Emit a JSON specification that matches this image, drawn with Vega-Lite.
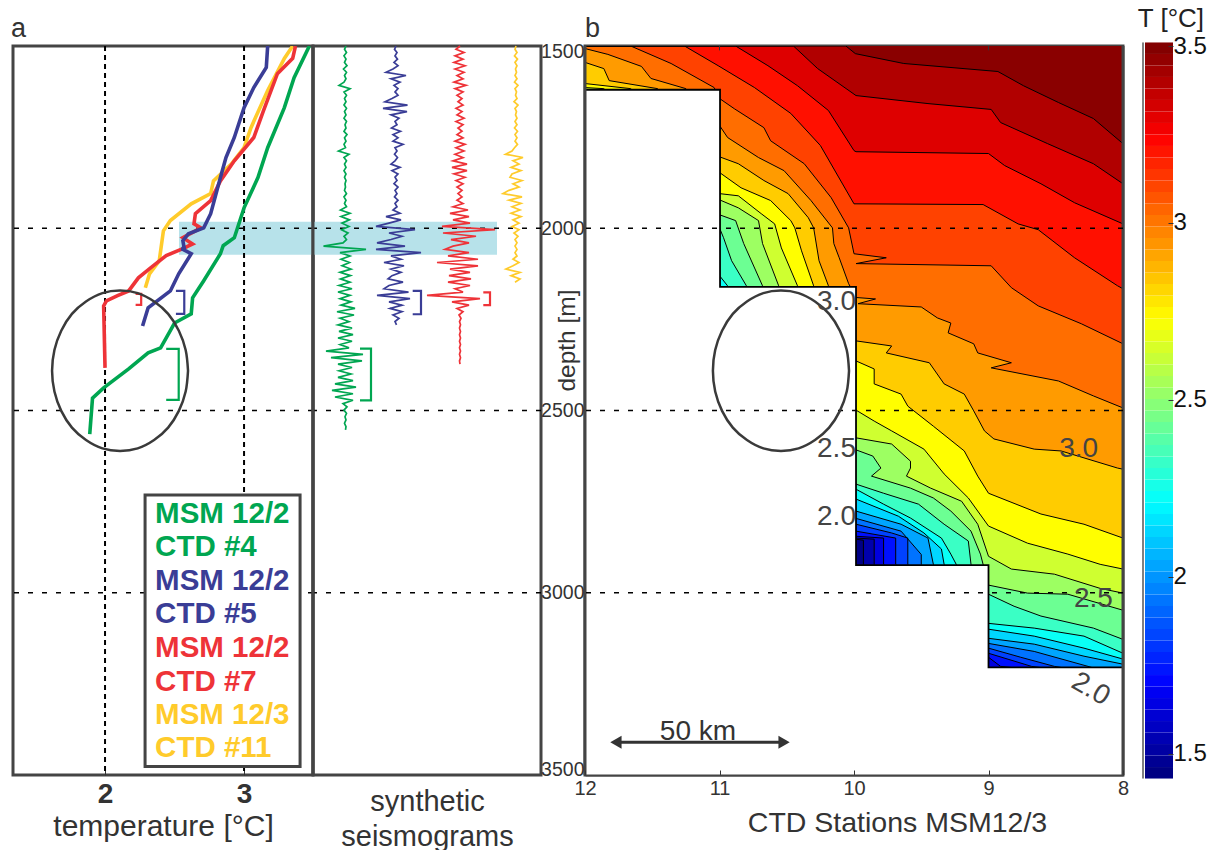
{"$schema":"https://vega.github.io/schema/vega-lite/v6.json","padding":{"left":9,"top":6,"right":0,"bottom":0},"bounds":"flush","spacing":0,"config":{"font":"Liberation Sans","view":{"stroke":"#444","strokeWidth":3},"axis":{"grid":false,"titleFontWeight":"normal","labelColor":"#333","titleColor":"#333","tickColor":"#333","domainColor":"#444"}},
"datasets":{
"curves":[
{"c":"#4","x":3.47,"d":1500},{"c":"#4","x":3.36,"d":1587},{"c":"#4","x":3.29,"d":1669},{"c":"#4","x":3.17,"d":1779},{"c":"#4","x":3.1,"d":1861},{"c":"#4","x":3.0,"d":1944},{"c":"#4","x":2.93,"d":2026},{"c":"#4","x":2.85,"d":2048},{"c":"#4","x":2.83,"d":2070},{"c":"#4","x":2.71,"d":2144},{"c":"#4","x":2.63,"d":2191},{"c":"#4","x":2.62,"d":2235},{"c":"#4","x":2.5,"d":2260},{"c":"#4","x":2.4,"d":2328},{"c":"#4","x":2.31,"d":2342},{"c":"#4","x":2.17,"d":2386},{"c":"#4","x":1.99,"d":2438},{"c":"#4","x":1.91,"d":2466},{"c":"#4","x":1.89,"d":2565},
{"c":"#11","x":3.35,"d":1500},{"c":"#11","x":3.29,"d":1534},{"c":"#11","x":3.17,"d":1622},{"c":"#11","x":3.05,"d":1724},{"c":"#11","x":3.0,"d":1779},{"c":"#11","x":2.91,"d":1823},{"c":"#11","x":2.78,"d":1870},{"c":"#11","x":2.76,"d":1905},{"c":"#11","x":2.62,"d":1933},{"c":"#11","x":2.47,"d":1979},{"c":"#11","x":2.42,"d":2007},{"c":"#11","x":2.39,"d":2089},{"c":"#11","x":2.32,"d":2125},{"c":"#11","x":2.29,"d":2163},
{"c":"#7","x":3.37,"d":1500},{"c":"#7","x":3.35,"d":1534},{"c":"#7","x":3.24,"d":1576},{"c":"#7","x":3.14,"d":1677},{"c":"#7","x":3.07,"d":1751},{"c":"#7","x":2.93,"d":1815},{"c":"#7","x":2.83,"d":1870},{"c":"#7","x":2.76,"d":1924},{"c":"#7","x":2.65,"d":1960},{"c":"#7","x":2.64,"d":1988},{"c":"#7","x":2.69,"d":1999},{"c":"#7","x":2.56,"d":2026},{"c":"#7","x":2.63,"d":2043},{"c":"#7","x":2.56,"d":2056},{"c":"#7","x":2.44,"d":2075},{"c":"#7","x":2.33,"d":2108},{"c":"#7","x":2.24,"d":2136},{"c":"#7","x":2.17,"d":2172},{"c":"#7","x":2.09,"d":2185},{"c":"#7","x":2.01,"d":2199},{"c":"#7","x":1.99,"d":2213},{"c":"#7","x":2.0,"d":2383},
{"c":"#5","x":3.17,"d":1500},{"c":"#5","x":3.16,"d":1559},{"c":"#5","x":3.07,"d":1614},{"c":"#5","x":3.0,"d":1669},{"c":"#5","x":2.93,"d":1751},{"c":"#5","x":2.87,"d":1806},{"c":"#5","x":2.83,"d":1861},{"c":"#5","x":2.76,"d":1960},{"c":"#5","x":2.71,"d":1999},{"c":"#5","x":2.6,"d":2015},{"c":"#5","x":2.56,"d":2034},{"c":"#5","x":2.57,"d":2056},{"c":"#5","x":2.55,"d":2056},{"c":"#5","x":2.62,"d":2070},{"c":"#5","x":2.53,"d":2125},{"c":"#5","x":2.47,"d":2172},{"c":"#5","x":2.31,"d":2218},{"c":"#5","x":2.27,"d":2268}],
"bracketsA":[
{"c":"#7","x":2.22,"d":2180},{"c":"#7","x":2.26,"d":2180},{"c":"#7","x":2.26,"d":2210},{"c":"#7","x":2.22,"d":2210},
{"c":"#5","x":2.51,"d":2172},{"c":"#5","x":2.57,"d":2172},{"c":"#5","x":2.57,"d":2235},{"c":"#5","x":2.51,"d":2235},
{"c":"#4","x":2.44,"d":2331},{"c":"#4","x":2.53,"d":2331},{"c":"#4","x":2.53,"d":2471},{"c":"#4","x":2.44,"d":2471}],
"bracketsS":[
{"c":"#5","x":0.997,"d":2172},{"c":"#5","x":1.08,"d":2172},{"c":"#5","x":1.08,"d":2236},{"c":"#5","x":0.997,"d":2236},
{"c":"#7","x":1.703,"d":2176},{"c":"#7","x":1.77,"d":2176},{"c":"#7","x":1.77,"d":2211},{"c":"#7","x":1.703,"d":2211},
{"c":"#4","x":0.47,"d":2330},{"c":"#4","x":0.58,"d":2330},{"c":"#4","x":0.58,"d":2472},{"c":"#4","x":0.47,"d":2472}],
"legendRows":[
{"c":"#4","x":2.36,"d":2784,"l":"MSM 12/2"},{"c":"#4","x":2.36,"d":2875,"l":"CTD #4"},{"c":"#5","x":2.36,"d":2968,"l":"MSM 12/2"},{"c":"#5","x":2.36,"d":3059,"l":"CTD #5"},{"c":"#7","x":2.36,"d":3152,"l":"MSM 12/2"},{"c":"#7","x":2.36,"d":3246,"l":"CTD #7"},{"c":"#11","x":2.36,"d":3336,"l":"MSM 12/3"},{"c":"#11","x":2.36,"d":3427,"l":"CTD #11"}],
"circleA":[{"x":2.597,"d":2391},{"x":2.58,"d":2448},{"x":2.531,"d":2501},{"x":2.454,"d":2547},{"x":2.353,"d":2581},{"x":2.235,"d":2604},{"x":2.108,"d":2611},{"x":1.981,"d":2604},{"x":1.863,"d":2581},{"x":1.762,"d":2547},{"x":1.685,"d":2501},{"x":1.636,"d":2448},{"x":1.619,"d":2391},{"x":1.636,"d":2334},{"x":1.685,"d":2281},{"x":1.762,"d":2235},{"x":1.863,"d":2201},{"x":1.981,"d":2178},{"x":2.108,"d":2171},{"x":2.235,"d":2178},{"x":2.353,"d":2201},{"x":2.454,"d":2235},{"x":2.531,"d":2281},{"x":2.58,"d":2334},{"x":2.597,"d":2391}],
"circleB":[{"x":10.037,"d":2391},{"x":10.054,"d":2448},{"x":10.105,"d":2501},{"x":10.185,"d":2547},{"x":10.29,"d":2581},{"x":10.412,"d":2604},{"x":10.543,"d":2611},{"x":10.674,"d":2604},{"x":10.796,"d":2581},{"x":10.901,"d":2547},{"x":10.981,"d":2501},{"x":11.032,"d":2448},{"x":11.049,"d":2391},{"x":11.032,"d":2334},{"x":10.981,"d":2281},{"x":10.901,"d":2235},{"x":10.796,"d":2201},{"x":10.674,"d":2178},{"x":10.543,"d":2171},{"x":10.412,"d":2178},{"x":10.29,"d":2201},{"x":10.185,"d":2235},{"x":10.105,"d":2281},{"x":10.054,"d":2334},{"x":10.037,"d":2391}],
"horizontals":[{"d":2000},{"d":2500},{"d":3000}],
"mask":[{"x":12,"d":1620},{"x":10.996,"d":1620},{"x":10.996,"d":2161},{"x":9.985,"d":2161},{"x":9.985,"d":2924},{"x":9.0,"d":2924},{"x":9.0,"d":3205},{"x":8.0,"d":3205}],
"contours":[
{"b":3.48,"x":12,"d":1500},{"b":3.48,"x":8,"d":1500},
{"b":3.4,"x":12,"d":1500},{"b":3.4,"x":10.06,"d":1500},{"b":3.4,"x":9.99,"d":1521},{"b":3.4,"x":9.63,"d":1548},{"b":3.4,"x":8.93,"d":1570},{"b":3.4,"x":8.74,"d":1609},{"b":3.4,"x":8.48,"d":1655},{"b":3.4,"x":8.22,"d":1699},{"b":3.4,"x":8.0,"d":1768},
{"b":3.31,"x":12,"d":1500},{"b":3.31,"x":10.45,"d":1500},{"b":3.31,"x":10.27,"d":1562},{"b":3.31,"x":9.985,"d":1636},{"b":3.31,"x":9.45,"d":1658},{"b":3.31,"x":8.98,"d":1674},{"b":3.31,"x":8.91,"d":1710},{"b":3.31,"x":8.56,"d":1768},{"b":3.31,"x":8.22,"d":1823},{"b":3.31,"x":8.0,"d":1878},
{"b":3.21,"x":12,"d":1500},{"b":3.21,"x":10.88,"d":1500},{"b":3.21,"x":10.64,"d":1554},{"b":3.21,"x":10.42,"d":1609},{"b":3.21,"x":10.19,"d":1677},{"b":3.21,"x":10.0,"d":1787},{"b":3.21,"x":9.985,"d":1790},{"b":3.21,"x":9.0,"d":1795},{"b":3.21,"x":8.88,"d":1828},{"b":3.21,"x":8.61,"d":1878},{"b":3.21,"x":8.36,"d":1930},{"b":3.21,"x":8.0,"d":1988},
{"b":3.11,"x":12,"d":1500},{"b":3.11,"x":11.26,"d":1500},{"b":3.11,"x":11.01,"d":1554},{"b":3.11,"x":10.74,"d":1614},{"b":3.11,"x":10.47,"d":1685},{"b":3.11,"x":10.25,"d":1773},{"b":3.11,"x":10.0,"d":1933},{"b":3.11,"x":9.985,"d":1933},{"b":3.11,"x":9.04,"d":1935},{"b":3.11,"x":8.78,"d":1988},{"b":3.11,"x":8.63,"d":2004},{"b":3.11,"x":8.36,"d":2081},{"b":3.11,"x":8.04,"d":2158},{"b":3.11,"x":8.0,"d":2166},
{"b":3.02,"x":12,"d":1500},{"b":3.02,"x":11.66,"d":1500},{"b":3.02,"x":11.36,"d":1548},{"b":3.02,"x":11.04,"d":1614},{"b":3.02,"x":11.0,"d":1644},{"b":3.02,"x":10.89,"d":1672},{"b":3.02,"x":10.67,"d":1724},{"b":3.02,"x":10.62,"d":1760},{"b":3.02,"x":10.37,"d":1823},{"b":3.02,"x":10.17,"d":1916},{"b":3.02,"x":10.04,"d":1999},{"b":3.02,"x":10.0,"d":2070},{"b":3.02,"x":9.76,"d":2081},{"b":3.02,"x":9.985,"d":2097},{"b":3.02,"x":8.98,"d":2103},{"b":3.02,"x":8.83,"d":2163},{"b":3.02,"x":8.63,"d":2213},{"b":3.02,"x":8.31,"d":2262},{"b":3.02,"x":8.0,"d":2317},
{"b":2.93,"x":12,"d":1507},{"b":2.93,"x":11.83,"d":1523},{"b":2.93,"x":11.58,"d":1556},{"b":2.93,"x":11.51,"d":1589},{"b":2.93,"x":11.25,"d":1617},{"b":2.93,"x":11.0,"d":1718},{"b":2.93,"x":10.94,"d":1751},{"b":2.93,"x":10.71,"d":1806},{"b":2.93,"x":10.52,"d":1842},{"b":2.93,"x":10.32,"d":1924},{"b":2.93,"x":10.16,"d":1999},{"b":2.93,"x":10.15,"d":2042},{"b":2.93,"x":10.11,"d":2081},{"b":2.93,"x":10.04,"d":2152},{"b":2.93,"x":9.985,"d":2190},{"b":2.93,"x":9.84,"d":2194},{"b":2.93,"x":9.97,"d":2207},{"b":2.93,"x":9.5,"d":2216},{"b":2.93,"x":9.38,"d":2246},{"b":2.93,"x":9.28,"d":2260},{"b":2.93,"x":9.3,"d":2287},{"b":2.93,"x":9.11,"d":2317},{"b":2.93,"x":9.08,"d":2342},{"b":2.93,"x":8.83,"d":2369},{"b":2.93,"x":8.98,"d":2383},{"b":2.93,"x":8.48,"d":2419},{"b":2.93,"x":8.22,"d":2460},{"b":2.93,"x":8.0,"d":2493},
{"b":2.83,"x":12,"d":1545},{"b":2.83,"x":11.86,"d":1562},{"b":2.83,"x":11.82,"d":1595},{"b":2.83,"x":11.46,"d":1617},{"b":2.83,"x":11.0,"d":1804},{"b":2.83,"x":10.86,"d":1823},{"b":2.83,"x":10.67,"d":1869},{"b":2.83,"x":10.49,"d":1905},{"b":2.83,"x":10.34,"d":1971},{"b":2.83,"x":10.3,"d":1999},{"b":2.83,"x":10.26,"d":2089},{"b":2.83,"x":10.19,"d":2158},{"b":2.83,"x":9.985,"d":2309},{"b":2.83,"x":9.72,"d":2323},{"b":2.83,"x":9.76,"d":2342},{"b":2.83,"x":9.44,"d":2369},{"b":2.83,"x":9.33,"d":2427},{"b":2.83,"x":9.18,"d":2455},{"b":2.83,"x":9.11,"d":2501},{"b":2.83,"x":9.03,"d":2556},{"b":2.83,"x":8.96,"d":2578},{"b":2.83,"x":8.66,"d":2606},{"b":2.83,"x":8.46,"d":2611},{"b":2.83,"x":8.04,"d":2658},{"b":2.83,"x":8.0,"d":2661},
{"b":2.73,"x":12,"d":1603},{"b":2.73,"x":11.66,"d":1617},{"b":2.73,"x":11.0,"d":1847},{"b":2.73,"x":10.84,"d":1889},{"b":2.73,"x":10.62,"d":1924},{"b":2.73,"x":10.47,"d":1979},{"b":2.73,"x":10.44,"d":1999},{"b":2.73,"x":10.39,"d":2062},{"b":2.73,"x":10.3,"d":2158},{"b":2.73,"x":9.985,"d":2364},{"b":2.73,"x":9.85,"d":2386},{"b":2.73,"x":9.85,"d":2427},{"b":2.73,"x":9.65,"d":2455},{"b":2.73,"x":9.6,"d":2488},{"b":2.73,"x":9.41,"d":2543},{"b":2.73,"x":9.18,"d":2611},{"b":2.73,"x":9.08,"d":2680},{"b":2.73,"x":9.0,"d":2727},{"b":2.73,"x":8.61,"d":2784},{"b":2.73,"x":8.29,"d":2812},{"b":2.73,"x":8.0,"d":2850},
{"b":2.63,"x":12,"d":1614},{"b":2.63,"x":11.86,"d":1617},{"b":2.63,"x":11.0,"d":1905},{"b":2.63,"x":10.86,"d":1911},{"b":2.63,"x":10.69,"d":1960},{"b":2.63,"x":10.59,"d":1988},{"b":2.63,"x":10.54,"d":2054},{"b":2.63,"x":10.42,"d":2158},{"b":2.63,"x":9.985,"d":2499},{"b":2.63,"x":9.85,"d":2529},{"b":2.63,"x":9.72,"d":2556},{"b":2.63,"x":9.48,"d":2606},{"b":2.63,"x":9.33,"d":2674},{"b":2.63,"x":9.15,"d":2740},{"b":2.63,"x":9.0,"d":2817},{"b":2.63,"x":8.71,"d":2864},{"b":2.63,"x":8.41,"d":2894},{"b":2.63,"x":8.17,"d":2922},{"b":2.63,"x":8.0,"d":2935},
{"b":2.53,"x":12,"d":1640},{"b":2.53,"x":11.0,"d":1922},{"b":2.53,"x":10.86,"d":1944},{"b":2.53,"x":10.71,"d":1979},{"b":2.53,"x":10.68,"d":2042},{"b":2.53,"x":10.56,"d":2158},{"b":2.53,"x":9.985,"d":2575},{"b":2.53,"x":9.72,"d":2592},{"b":2.53,"x":9.58,"d":2639},{"b":2.53,"x":9.58,"d":2658},{"b":2.53,"x":9.61,"d":2680},{"b":2.53,"x":9.43,"d":2713},{"b":2.53,"x":9.2,"d":2749},{"b":2.53,"x":9.08,"d":2812},{"b":2.53,"x":9.0,"d":2900},{"b":2.53,"x":8.83,"d":2935},{"b":2.53,"x":8.51,"d":2949},{"b":2.53,"x":8.17,"d":2988},{"b":2.53,"x":8.0,"d":3001},
{"b":2.43,"x":12,"d":1650},{"b":2.43,"x":11.0,"d":1963},{"b":2.43,"x":10.88,"d":1979},{"b":2.43,"x":10.82,"d":2042},{"b":2.43,"x":10.68,"d":2158},{"b":2.43,"x":9.985,"d":2608},{"b":2.43,"x":9.86,"d":2625},{"b":2.43,"x":9.8,"d":2658},{"b":2.43,"x":9.87,"d":2680},{"b":2.43,"x":9.58,"d":2713},{"b":2.43,"x":9.41,"d":2740},{"b":2.43,"x":9.28,"d":2776},{"b":2.43,"x":9.13,"d":2831},{"b":2.43,"x":9.06,"d":2894},{"b":2.43,"x":9.0,"d":2979},{"b":2.43,"x":8.71,"d":3001},{"b":2.43,"x":8.41,"d":3004},{"b":2.43,"x":8.0,"d":3048},
{"b":2.33,"x":12,"d":1660},{"b":2.33,"x":11.0,"d":1999},{"b":2.33,"x":10.97,"d":2026},{"b":2.33,"x":10.91,"d":2089},{"b":2.33,"x":10.8,"d":2158},{"b":2.33,"x":9.985,"d":2702},{"b":2.33,"x":9.78,"d":2727},{"b":2.33,"x":9.52,"d":2757},{"b":2.33,"x":9.33,"d":2812},{"b":2.33,"x":9.15,"d":2858},{"b":2.33,"x":9.13,"d":2922},{"b":2.33,"x":9.0,"d":3004},{"b":2.33,"x":8.81,"d":3037},{"b":2.33,"x":8.61,"d":3064},{"b":2.33,"x":8.22,"d":3097},{"b":2.33,"x":8.0,"d":3128},
{"b":2.23,"x":12,"d":1670},{"b":2.23,"x":11.0,"d":2130},{"b":2.23,"x":10.94,"d":2158},{"b":2.23,"x":9.985,"d":2716},{"b":2.23,"x":9.78,"d":2757},{"b":2.23,"x":9.58,"d":2795},{"b":2.23,"x":9.35,"d":2850},{"b":2.23,"x":9.28,"d":2894},{"b":2.23,"x":9.24,"d":2922},{"b":2.23,"x":9.0,"d":3084},{"b":2.23,"x":8.66,"d":3097},{"b":2.23,"x":8.29,"d":3119},{"b":2.23,"x":8.0,"d":3166},
{"b":2.13,"x":12,"d":1680},{"b":2.13,"x":11.0,"d":2200},{"b":2.13,"x":9.985,"d":2743},{"b":2.13,"x":9.67,"d":2790},{"b":2.13,"x":9.48,"d":2836},{"b":2.13,"x":9.35,"d":2880},{"b":2.13,"x":9.33,"d":2922},{"b":2.13,"x":9.0,"d":3100},{"b":2.13,"x":8.66,"d":3119},{"b":2.13,"x":8.29,"d":3152},{"b":2.13,"x":8.0,"d":3182},
{"b":2.03,"x":12,"d":1690},{"b":2.03,"x":11.0,"d":2210},{"b":2.03,"x":9.985,"d":2776},{"b":2.03,"x":9.65,"d":2812},{"b":2.03,"x":9.45,"d":2850},{"b":2.03,"x":9.41,"d":2922},{"b":2.03,"x":9.0,"d":3125},{"b":2.03,"x":8.66,"d":3141},{"b":2.03,"x":8.29,"d":3174},{"b":2.03,"x":8.0,"d":3196},
{"b":1.93,"x":12,"d":1700},{"b":1.93,"x":11.0,"d":2220},{"b":1.93,"x":9.985,"d":2796},{"b":1.93,"x":9.65,"d":2831},{"b":1.93,"x":9.5,"d":2895},{"b":1.93,"x":9.5,"d":2922},{"b":1.93,"x":9.0,"d":3139},{"b":1.93,"x":8.66,"d":3161},{"b":1.93,"x":8.26,"d":3202},{"b":1.93,"x":8.0,"d":3230},
{"b":1.83,"x":12,"d":1710},{"b":1.83,"x":11.0,"d":2230},{"b":1.83,"x":9.985,"d":2812},{"b":1.83,"x":9.72,"d":2836},{"b":1.83,"x":9.6,"d":2850},{"b":1.83,"x":9.6,"d":2922},{"b":1.83,"x":9.0,"d":3152},{"b":1.83,"x":8.76,"d":3177},{"b":1.83,"x":8.51,"d":3202},{"b":1.83,"x":8.0,"d":3232},
{"b":1.73,"x":12,"d":1720},{"b":1.73,"x":11.0,"d":2240},{"b":1.73,"x":9.985,"d":2831},{"b":1.73,"x":9.69,"d":2850},{"b":1.73,"x":9.69,"d":2922},{"b":1.73,"x":9.0,"d":3166},{"b":1.73,"x":8.68,"d":3202},{"b":1.73,"x":8.0,"d":3234},
{"b":1.63,"x":12,"d":1730},{"b":1.63,"x":11.0,"d":2250},{"b":1.63,"x":9.985,"d":2845},{"b":1.63,"x":9.78,"d":2850},{"b":1.63,"x":9.78,"d":2922},{"b":1.63,"x":9.0,"d":3177},{"b":1.63,"x":8.91,"d":3202},{"b":1.63,"x":8.0,"d":3236},
{"b":1.53,"x":12,"d":1740},{"b":1.53,"x":11.0,"d":2260},{"b":1.53,"x":9.985,"d":2850},{"b":1.53,"x":9.85,"d":2853},{"b":1.53,"x":9.85,"d":2922},{"b":1.53,"x":9.0,"d":3300},{"b":1.53,"x":8.0,"d":3310},
{"b":1.45,"x":12,"d":1750},{"b":1.45,"x":11.0,"d":2270},{"b":1.45,"x":9.985,"d":2853},{"b":1.45,"x":9.93,"d":2856},{"b":1.45,"x":9.93,"d":2922},{"b":1.45,"x":9.5,"d":3300},{"b":1.45,"x":8.0,"d":3320}],
"contourLabels":[{"x":10.13,"d":2202,"l":"3.0"},{"x":10.13,"d":2606,"l":"2.5"},{"x":10.13,"d":2792,"l":"2.0"},{"x":8.33,"d":2606,"l":"3.0"},{"x":8.22,"d":3017,"l":"2.5"}],
"contourLabelsTilted":[{"x":8.24,"d":3265,"l":"2.0"}],
"scaleBar":[{"x":11.77,"d":3410},{"x":10.52,"d":3410}],
"colorBar":[{"a":0.067,"b":1,"t0":1.43,"t1":1.4625,"v":1.446},{"a":0.067,"b":1,"t0":1.4625,"t1":1.495,"v":1.479},{"a":0.067,"b":1,"t0":1.495,"t1":1.5275,"v":1.511},{"a":0.067,"b":1,"t0":1.5275,"t1":1.56,"v":1.544},{"a":0.067,"b":1,"t0":1.56,"t1":1.5925,"v":1.576},{"a":0.067,"b":1,"t0":1.5925,"t1":1.625,"v":1.609},{"a":0.067,"b":1,"t0":1.625,"t1":1.6575,"v":1.641},{"a":0.067,"b":1,"t0":1.6575,"t1":1.69,"v":1.674},{"a":0.067,"b":1,"t0":1.69,"t1":1.7225,"v":1.706},{"a":0.067,"b":1,"t0":1.7225,"t1":1.755,"v":1.739},{"a":0.067,"b":1,"t0":1.755,"t1":1.7875,"v":1.771},{"a":0.067,"b":1,"t0":1.7875,"t1":1.82,"v":1.804},{"a":0.067,"b":1,"t0":1.82,"t1":1.8525,"v":1.836},{"a":0.067,"b":1,"t0":1.8525,"t1":1.885,"v":1.869},{"a":0.067,"b":1,"t0":1.885,"t1":1.9175,"v":1.901},{"a":0.067,"b":1,"t0":1.9175,"t1":1.95,"v":1.934},{"a":0.067,"b":1,"t0":1.95,"t1":1.9825,"v":1.966},{"a":0.067,"b":1,"t0":1.9825,"t1":2.015,"v":1.999},{"a":0.067,"b":1,"t0":2.015,"t1":2.0475,"v":2.031},{"a":0.067,"b":1,"t0":2.0475,"t1":2.08,"v":2.064},{"a":0.067,"b":1,"t0":2.08,"t1":2.1125,"v":2.096},{"a":0.067,"b":1,"t0":2.1125,"t1":2.145,"v":2.129},{"a":0.067,"b":1,"t0":2.145,"t1":2.1775,"v":2.161},{"a":0.067,"b":1,"t0":2.1775,"t1":2.21,"v":2.194},{"a":0.067,"b":1,"t0":2.21,"t1":2.2425,"v":2.226},{"a":0.067,"b":1,"t0":2.2425,"t1":2.275,"v":2.259},{"a":0.067,"b":1,"t0":2.275,"t1":2.3075,"v":2.291},{"a":0.067,"b":1,"t0":2.3075,"t1":2.34,"v":2.324},{"a":0.067,"b":1,"t0":2.34,"t1":2.3725,"v":2.356},{"a":0.067,"b":1,"t0":2.3725,"t1":2.405,"v":2.389},{"a":0.067,"b":1,"t0":2.405,"t1":2.4375,"v":2.421},{"a":0.067,"b":1,"t0":2.4375,"t1":2.47,"v":2.454},{"a":0.067,"b":1,"t0":2.47,"t1":2.5025,"v":2.486},{"a":0.067,"b":1,"t0":2.5025,"t1":2.535,"v":2.519},{"a":0.067,"b":1,"t0":2.535,"t1":2.5675,"v":2.551},{"a":0.067,"b":1,"t0":2.5675,"t1":2.6,"v":2.584},{"a":0.067,"b":1,"t0":2.6,"t1":2.6325,"v":2.616},{"a":0.067,"b":1,"t0":2.6325,"t1":2.665,"v":2.649},{"a":0.067,"b":1,"t0":2.665,"t1":2.6975,"v":2.681},{"a":0.067,"b":1,"t0":2.6975,"t1":2.73,"v":2.714},{"a":0.067,"b":1,"t0":2.73,"t1":2.7625,"v":2.746},{"a":0.067,"b":1,"t0":2.7625,"t1":2.795,"v":2.779},{"a":0.067,"b":1,"t0":2.795,"t1":2.8275,"v":2.811},{"a":0.067,"b":1,"t0":2.8275,"t1":2.86,"v":2.844},{"a":0.067,"b":1,"t0":2.86,"t1":2.8925,"v":2.876},{"a":0.067,"b":1,"t0":2.8925,"t1":2.925,"v":2.909},{"a":0.067,"b":1,"t0":2.925,"t1":2.9575,"v":2.941},{"a":0.067,"b":1,"t0":2.9575,"t1":2.99,"v":2.974},{"a":0.067,"b":1,"t0":2.99,"t1":3.0225,"v":3.006},{"a":0.067,"b":1,"t0":3.0225,"t1":3.055,"v":3.039},{"a":0.067,"b":1,"t0":3.055,"t1":3.0875,"v":3.071},{"a":0.067,"b":1,"t0":3.0875,"t1":3.12,"v":3.104},{"a":0.067,"b":1,"t0":3.12,"t1":3.1525,"v":3.136},{"a":0.067,"b":1,"t0":3.1525,"t1":3.185,"v":3.169},{"a":0.067,"b":1,"t0":3.185,"t1":3.2175,"v":3.201},{"a":0.067,"b":1,"t0":3.2175,"t1":3.25,"v":3.234},{"a":0.067,"b":1,"t0":3.25,"t1":3.2825,"v":3.266},{"a":0.067,"b":1,"t0":3.2825,"t1":3.315,"v":3.299},{"a":0.067,"b":1,"t0":3.315,"t1":3.3475,"v":3.331},{"a":0.067,"b":1,"t0":3.3475,"t1":3.38,"v":3.364},{"a":0.067,"b":1,"t0":3.38,"t1":3.4125,"v":3.396},{"a":0.067,"b":1,"t0":3.4125,"t1":3.445,"v":3.429},{"a":0.067,"b":1,"t0":3.445,"t1":3.4775,"v":3.461},{"a":0.067,"b":1,"t0":3.4775,"t1":3.51,"v":3.494}],
"seis":[
{"c":"#4","x":0.33,"d":1500},{"c":"#4","x":0.315,"d":1509},{"c":"#4","x":0.335,"d":1518},{"c":"#4","x":0.31,"d":1527},{"c":"#4","x":0.33,"d":1536},{"c":"#4","x":0.315,"d":1545},{"c":"#4","x":0.34,"d":1554},{"c":"#4","x":0.305,"d":1563},{"c":"#4","x":0.335,"d":1572},{"c":"#4","x":0.315,"d":1581},{"c":"#4","x":0.33,"d":1590},{"c":"#4","x":0.31,"d":1599},{"c":"#4","x":0.26,"d":1608},{"c":"#4","x":0.37,"d":1617},{"c":"#4","x":0.31,"d":1626},{"c":"#4","x":0.335,"d":1635},{"c":"#4","x":0.315,"d":1644},{"c":"#4","x":0.33,"d":1653},{"c":"#4","x":0.31,"d":1662},{"c":"#4","x":0.335,"d":1671},{"c":"#4","x":0.315,"d":1680},{"c":"#4","x":0.33,"d":1689},{"c":"#4","x":0.31,"d":1698},{"c":"#4","x":0.335,"d":1707},{"c":"#4","x":0.32,"d":1716},{"c":"#4","x":0.33,"d":1725},{"c":"#4","x":0.31,"d":1734},{"c":"#4","x":0.34,"d":1743},{"c":"#4","x":0.315,"d":1752},{"c":"#4","x":0.33,"d":1761},{"c":"#4","x":0.31,"d":1770},{"c":"#4","x":0.325,"d":1779},{"c":"#4","x":0.255,"d":1788},{"c":"#4","x":0.36,"d":1797},{"c":"#4","x":0.31,"d":1806},{"c":"#4","x":0.335,"d":1815},{"c":"#4","x":0.315,"d":1824},{"c":"#4","x":0.33,"d":1833},{"c":"#4","x":0.31,"d":1842},{"c":"#4","x":0.33,"d":1851},{"c":"#4","x":0.315,"d":1860},{"c":"#4","x":0.33,"d":1869},{"c":"#4","x":0.32,"d":1878},{"c":"#4","x":0.325,"d":1887},{"c":"#4","x":0.315,"d":1896},{"c":"#4","x":0.335,"d":1905},{"c":"#4","x":0.31,"d":1914},{"c":"#4","x":0.33,"d":1923},{"c":"#4","x":0.315,"d":1932},{"c":"#4","x":0.335,"d":1941},{"c":"#4","x":0.275,"d":1950},{"c":"#4","x":0.37,"d":1959},{"c":"#4","x":0.28,"d":1968},{"c":"#4","x":0.365,"d":1977},{"c":"#4","x":0.29,"d":1986},{"c":"#4","x":0.36,"d":1995},{"c":"#4","x":0.285,"d":2004},{"c":"#4","x":0.35,"d":2013},{"c":"#4","x":0.31,"d":2022},{"c":"#4","x":0.335,"d":2031},{"c":"#4","x":0.3,"d":2040},{"c":"#4","x":0.105,"d":2049},{"c":"#4","x":0.53,"d":2058},{"c":"#4","x":0.27,"d":2067},{"c":"#4","x":0.37,"d":2076},{"c":"#4","x":0.28,"d":2085},{"c":"#4","x":0.365,"d":2094},{"c":"#4","x":0.29,"d":2103},{"c":"#4","x":0.38,"d":2112},{"c":"#4","x":0.27,"d":2121},{"c":"#4","x":0.375,"d":2130},{"c":"#4","x":0.275,"d":2139},{"c":"#4","x":0.37,"d":2148},{"c":"#4","x":0.26,"d":2157},{"c":"#4","x":0.39,"d":2166},{"c":"#4","x":0.25,"d":2175},{"c":"#4","x":0.37,"d":2184},{"c":"#4","x":0.27,"d":2193},{"c":"#4","x":0.38,"d":2202},{"c":"#4","x":0.28,"d":2211},{"c":"#4","x":0.42,"d":2220},{"c":"#4","x":0.24,"d":2229},{"c":"#4","x":0.41,"d":2238},{"c":"#4","x":0.27,"d":2247},{"c":"#4","x":0.36,"d":2256},{"c":"#4","x":0.25,"d":2265},{"c":"#4","x":0.39,"d":2274},{"c":"#4","x":0.26,"d":2283},{"c":"#4","x":0.4,"d":2292},{"c":"#4","x":0.25,"d":2301},{"c":"#4","x":0.39,"d":2310},{"c":"#4","x":0.27,"d":2319},{"c":"#4","x":0.36,"d":2328},{"c":"#4","x":0.13,"d":2337},{"c":"#4","x":0.5,"d":2346},{"c":"#4","x":0.18,"d":2355},{"c":"#4","x":0.49,"d":2364},{"c":"#4","x":0.25,"d":2373},{"c":"#4","x":0.39,"d":2382},{"c":"#4","x":0.26,"d":2391},{"c":"#4","x":0.38,"d":2400},{"c":"#4","x":0.25,"d":2409},{"c":"#4","x":0.4,"d":2418},{"c":"#4","x":0.22,"d":2427},{"c":"#4","x":0.43,"d":2436},{"c":"#4","x":0.19,"d":2445},{"c":"#4","x":0.4,"d":2454},{"c":"#4","x":0.22,"d":2463},{"c":"#4","x":0.4,"d":2472},{"c":"#4","x":0.3,"d":2481},{"c":"#4","x":0.34,"d":2490},{"c":"#4","x":0.31,"d":2499},{"c":"#4","x":0.335,"d":2508},{"c":"#4","x":0.32,"d":2517},{"c":"#4","x":0.33,"d":2526},{"c":"#4","x":0.315,"d":2535},{"c":"#4","x":0.33,"d":2544},{"c":"#4","x":0.325,"d":2553},
{"c":"#5","x":0.83,"d":1500},{"c":"#5","x":0.815,"d":1509},{"c":"#5","x":0.84,"d":1518},{"c":"#5","x":0.82,"d":1527},{"c":"#5","x":0.845,"d":1536},{"c":"#5","x":0.81,"d":1545},{"c":"#5","x":0.85,"d":1554},{"c":"#5","x":0.8,"d":1563},{"c":"#5","x":0.73,"d":1572},{"c":"#5","x":0.93,"d":1581},{"c":"#5","x":0.78,"d":1590},{"c":"#5","x":0.87,"d":1599},{"c":"#5","x":0.81,"d":1608},{"c":"#5","x":0.85,"d":1617},{"c":"#5","x":0.82,"d":1626},{"c":"#5","x":0.85,"d":1635},{"c":"#5","x":0.79,"d":1644},{"c":"#5","x":0.72,"d":1653},{"c":"#5","x":0.945,"d":1662},{"c":"#5","x":0.7,"d":1671},{"c":"#5","x":0.94,"d":1680},{"c":"#5","x":0.78,"d":1689},{"c":"#5","x":0.86,"d":1698},{"c":"#5","x":0.82,"d":1707},{"c":"#5","x":0.84,"d":1716},{"c":"#5","x":0.785,"d":1725},{"c":"#5","x":0.875,"d":1734},{"c":"#5","x":0.8,"d":1743},{"c":"#5","x":0.85,"d":1752},{"c":"#5","x":0.8,"d":1761},{"c":"#5","x":0.9,"d":1770},{"c":"#5","x":0.82,"d":1779},{"c":"#5","x":0.84,"d":1788},{"c":"#5","x":0.815,"d":1797},{"c":"#5","x":0.845,"d":1806},{"c":"#5","x":0.82,"d":1815},{"c":"#5","x":0.78,"d":1824},{"c":"#5","x":0.87,"d":1833},{"c":"#5","x":0.79,"d":1842},{"c":"#5","x":0.85,"d":1851},{"c":"#5","x":0.82,"d":1860},{"c":"#5","x":0.84,"d":1869},{"c":"#5","x":0.81,"d":1878},{"c":"#5","x":0.85,"d":1887},{"c":"#5","x":0.82,"d":1896},{"c":"#5","x":0.84,"d":1905},{"c":"#5","x":0.815,"d":1914},{"c":"#5","x":0.85,"d":1923},{"c":"#5","x":0.82,"d":1932},{"c":"#5","x":0.84,"d":1941},{"c":"#5","x":0.8,"d":1950},{"c":"#5","x":0.87,"d":1959},{"c":"#5","x":0.73,"d":1968},{"c":"#5","x":0.88,"d":1977},{"c":"#5","x":0.76,"d":1986},{"c":"#5","x":0.63,"d":1995},{"c":"#5","x":1.02,"d":2004},{"c":"#5","x":0.76,"d":2013},{"c":"#5","x":0.89,"d":2022},{"c":"#5","x":0.78,"d":2031},{"c":"#5","x":0.64,"d":2040},{"c":"#5","x":0.92,"d":2049},{"c":"#5","x":0.63,"d":2058},{"c":"#5","x":1.08,"d":2067},{"c":"#5","x":0.78,"d":2076},{"c":"#5","x":0.88,"d":2085},{"c":"#5","x":0.71,"d":2094},{"c":"#5","x":0.91,"d":2103},{"c":"#5","x":0.78,"d":2112},{"c":"#5","x":0.88,"d":2121},{"c":"#5","x":0.79,"d":2130},{"c":"#5","x":0.75,"d":2139},{"c":"#5","x":0.9,"d":2148},{"c":"#5","x":0.76,"d":2157},{"c":"#5","x":0.71,"d":2166},{"c":"#5","x":0.955,"d":2175},{"c":"#5","x":0.64,"d":2184},{"c":"#5","x":0.97,"d":2193},{"c":"#5","x":0.76,"d":2202},{"c":"#5","x":0.89,"d":2211},{"c":"#5","x":0.77,"d":2220},{"c":"#5","x":0.89,"d":2229},{"c":"#5","x":0.8,"d":2238},{"c":"#5","x":0.86,"d":2247},{"c":"#5","x":0.82,"d":2256},{"c":"#5","x":0.835,"d":2265},
{"c":"#7","x":1.47,"d":1500},{"c":"#7","x":1.43,"d":1509},{"c":"#7","x":1.51,"d":1518},{"c":"#7","x":1.42,"d":1527},{"c":"#7","x":1.5,"d":1536},{"c":"#7","x":1.41,"d":1545},{"c":"#7","x":1.52,"d":1554},{"c":"#7","x":1.42,"d":1563},{"c":"#7","x":1.51,"d":1572},{"c":"#7","x":1.44,"d":1581},{"c":"#7","x":1.5,"d":1590},{"c":"#7","x":1.41,"d":1599},{"c":"#7","x":1.53,"d":1608},{"c":"#7","x":1.42,"d":1617},{"c":"#7","x":1.5,"d":1626},{"c":"#7","x":1.44,"d":1635},{"c":"#7","x":1.49,"d":1644},{"c":"#7","x":1.45,"d":1653},{"c":"#7","x":1.5,"d":1662},{"c":"#7","x":1.43,"d":1671},{"c":"#7","x":1.49,"d":1680},{"c":"#7","x":1.44,"d":1689},{"c":"#7","x":1.51,"d":1698},{"c":"#7","x":1.43,"d":1707},{"c":"#7","x":1.5,"d":1716},{"c":"#7","x":1.45,"d":1725},{"c":"#7","x":1.49,"d":1734},{"c":"#7","x":1.44,"d":1743},{"c":"#7","x":1.5,"d":1752},{"c":"#7","x":1.42,"d":1761},{"c":"#7","x":1.52,"d":1770},{"c":"#7","x":1.43,"d":1779},{"c":"#7","x":1.51,"d":1788},{"c":"#7","x":1.42,"d":1797},{"c":"#7","x":1.5,"d":1806},{"c":"#7","x":1.4,"d":1815},{"c":"#7","x":1.54,"d":1824},{"c":"#7","x":1.39,"d":1833},{"c":"#7","x":1.54,"d":1842},{"c":"#7","x":1.41,"d":1851},{"c":"#7","x":1.52,"d":1860},{"c":"#7","x":1.43,"d":1869},{"c":"#7","x":1.5,"d":1878},{"c":"#7","x":1.44,"d":1887},{"c":"#7","x":1.49,"d":1896},{"c":"#7","x":1.45,"d":1905},{"c":"#7","x":1.49,"d":1914},{"c":"#7","x":1.44,"d":1923},{"c":"#7","x":1.5,"d":1932},{"c":"#7","x":1.4,"d":1941},{"c":"#7","x":1.55,"d":1950},{"c":"#7","x":1.37,"d":1959},{"c":"#7","x":1.56,"d":1968},{"c":"#7","x":1.4,"d":1977},{"c":"#7","x":1.57,"d":1986},{"c":"#7","x":1.29,"d":1995},{"c":"#7","x":1.82,"d":2004},{"c":"#7","x":1.3,"d":2013},{"c":"#7","x":1.63,"d":2022},{"c":"#7","x":1.38,"d":2031},{"c":"#7","x":1.56,"d":2040},{"c":"#7","x":1.4,"d":2049},{"c":"#7","x":1.32,"d":2058},{"c":"#7","x":1.56,"d":2067},{"c":"#7","x":1.35,"d":2076},{"c":"#7","x":1.65,"d":2085},{"c":"#7","x":1.24,"d":2094},{"c":"#7","x":1.65,"d":2103},{"c":"#7","x":1.37,"d":2112},{"c":"#7","x":1.57,"d":2121},{"c":"#7","x":1.36,"d":2130},{"c":"#7","x":1.58,"d":2139},{"c":"#7","x":1.35,"d":2148},{"c":"#7","x":1.57,"d":2157},{"c":"#7","x":1.42,"d":2166},{"c":"#7","x":1.5,"d":2175},{"c":"#7","x":1.14,"d":2184},{"c":"#7","x":1.67,"d":2193},{"c":"#7","x":1.39,"d":2202},{"c":"#7","x":1.56,"d":2211},{"c":"#7","x":1.44,"d":2220},{"c":"#7","x":1.5,"d":2229},{"c":"#7","x":1.46,"d":2238},{"c":"#7","x":1.48,"d":2247},{"c":"#7","x":1.465,"d":2256},{"c":"#7","x":1.475,"d":2265},{"c":"#7","x":1.465,"d":2274},{"c":"#7","x":1.475,"d":2283},{"c":"#7","x":1.465,"d":2292},{"c":"#7","x":1.475,"d":2301},{"c":"#7","x":1.465,"d":2310},{"c":"#7","x":1.475,"d":2319},{"c":"#7","x":1.465,"d":2328},{"c":"#7","x":1.475,"d":2337},{"c":"#7","x":1.465,"d":2346},{"c":"#7","x":1.475,"d":2355},{"c":"#7","x":1.465,"d":2364},{"c":"#7","x":1.47,"d":2373},
{"c":"#11","x":2.03,"d":1500},{"c":"#11","x":2.02,"d":1509},{"c":"#11","x":2.04,"d":1518},{"c":"#11","x":2.015,"d":1527},{"c":"#11","x":2.045,"d":1536},{"c":"#11","x":2.02,"d":1545},{"c":"#11","x":2.04,"d":1554},{"c":"#11","x":2.025,"d":1563},{"c":"#11","x":2.035,"d":1572},{"c":"#11","x":2.02,"d":1581},{"c":"#11","x":2.04,"d":1590},{"c":"#11","x":2.015,"d":1599},{"c":"#11","x":2.05,"d":1608},{"c":"#11","x":2.02,"d":1617},{"c":"#11","x":2.035,"d":1626},{"c":"#11","x":2.025,"d":1635},{"c":"#11","x":2.04,"d":1644},{"c":"#11","x":2.01,"d":1653},{"c":"#11","x":2.05,"d":1662},{"c":"#11","x":2.02,"d":1671},{"c":"#11","x":2.035,"d":1680},{"c":"#11","x":2.025,"d":1689},{"c":"#11","x":2.04,"d":1698},{"c":"#11","x":2.02,"d":1707},{"c":"#11","x":2.04,"d":1716},{"c":"#11","x":2.015,"d":1725},{"c":"#11","x":2.045,"d":1734},{"c":"#11","x":2.02,"d":1743},{"c":"#11","x":2.04,"d":1752},{"c":"#11","x":2.02,"d":1761},{"c":"#11","x":2.045,"d":1770},{"c":"#11","x":2.015,"d":1779},{"c":"#11","x":1.99,"d":1788},{"c":"#11","x":1.925,"d":1797},{"c":"#11","x":2.1,"d":1806},{"c":"#11","x":2.0,"d":1815},{"c":"#11","x":2.06,"d":1824},{"c":"#11","x":1.98,"d":1833},{"c":"#11","x":2.08,"d":1842},{"c":"#11","x":1.99,"d":1851},{"c":"#11","x":1.97,"d":1860},{"c":"#11","x":2.09,"d":1869},{"c":"#11","x":2.0,"d":1878},{"c":"#11","x":2.06,"d":1887},{"c":"#11","x":1.96,"d":1896},{"c":"#11","x":1.9,"d":1905},{"c":"#11","x":2.09,"d":1914},{"c":"#11","x":1.96,"d":1923},{"c":"#11","x":2.08,"d":1932},{"c":"#11","x":1.99,"d":1941},{"c":"#11","x":2.07,"d":1950},{"c":"#11","x":1.98,"d":1959},{"c":"#11","x":2.08,"d":1968},{"c":"#11","x":2.0,"d":1977},{"c":"#11","x":2.06,"d":1986},{"c":"#11","x":1.99,"d":1995},{"c":"#11","x":2.06,"d":2004},{"c":"#11","x":2.01,"d":2013},{"c":"#11","x":2.05,"d":2022},{"c":"#11","x":2.02,"d":2031},{"c":"#11","x":2.04,"d":2040},{"c":"#11","x":2.02,"d":2049},{"c":"#11","x":2.04,"d":2058},{"c":"#11","x":2.02,"d":2067},{"c":"#11","x":2.04,"d":2076},{"c":"#11","x":2.0,"d":2085},{"c":"#11","x":2.06,"d":2094},{"c":"#11","x":2.0,"d":2103},{"c":"#11","x":1.93,"d":2112},{"c":"#11","x":2.07,"d":2121},{"c":"#11","x":1.98,"d":2130},{"c":"#11","x":2.07,"d":2139},{"c":"#11","x":2.02,"d":2148}]
},
"hconcat":[
{"width":300,"height":729,"layer":[
{"data":{"values":[{"x":2.532,"x2":3.496,"d":1982,"d2":2073}]},"mark":{"type":"rect","fill":"#B7E2EA"},"encoding":{"x":{"field":"x","type":"quantitative","scale":{"domain":[1.338,3.496],"zero":false,"nice":false},"axis":{"values":[2,3],"format":"d","domain":false,"tickSize":-5,"labelFontSize":28,"labelFontWeight":"bold","labelPadding":10,"title":"temperature [°C]","titleFontSize":30,"titlePadding":3}},"x2":{"field":"x2"},"y":{"field":"d","type":"quantitative","scale":{"domain":[1500,3500],"reverse":true,"zero":false,"nice":false},"axis":null},"y2":{"field":"d2"}}},
{"data":{"name":"horizontals"},"mark":{"type":"rule","color":"#000","strokeWidth":1.5,"strokeDash":[5,9]},"encoding":{"y":{"field":"d","type":"quantitative"}}},
{"data":{"values":[{"x":2,"d":1500,"d2":3500},{"x":3,"d":1500,"d2":3500}]},"mark":{"type":"rule","color":"#000","strokeWidth":2,"strokeDash":[5,4]},"encoding":{"x":{"field":"x","type":"quantitative"},"y":{"field":"d","type":"quantitative"},"y2":{"field":"d2"}}},
{"data":{"name":"curves"},"mark":{"type":"line","order":false,"strokeWidth":3.6,"clip":true},"encoding":{"x":{"field":"x","type":"quantitative"},"y":{"field":"d","type":"quantitative"},"color":{"field":"c","type":"nominal","legend":null,"scale":{"domain":["#4","#5","#7","#11"],"range":["#00A651","#3A3D96","#EE3338","#FFCB2B"]}}}},
{"data":{"name":"bracketsA"},"mark":{"type":"line","order":false,"strokeWidth":2.2},"encoding":{"x":{"field":"x","type":"quantitative"},"y":{"field":"d","type":"quantitative"},"color":{"field":"c","type":"nominal","legend":null,"scale":{"domain":["#4","#5","#7","#11"],"range":["#00A651","#3A3D96","#EE3338","#FFCB2B"]}}}},
{"data":{"name":"circleA"},"mark":{"type":"line","order":false,"interpolate":"cardinal","stroke":"#3a3a3a","strokeWidth":2.5},"encoding":{"x":{"field":"x","type":"quantitative"},"y":{"field":"d","type":"quantitative"}}},
{"data":{"values":[{"x":2.288,"x2":3.403,"d":2732,"d2":3477}]},"mark":{"type":"rect","fill":"#fff","stroke":"#444","strokeWidth":3},"encoding":{"x":{"field":"x","type":"quantitative"},"x2":{"field":"x2"},"y":{"field":"d","type":"quantitative"},"y2":{"field":"d2"}}},
{"data":{"name":"legendRows"},"mark":{"type":"text","align":"left","baseline":"middle","fontSize":29.5,"fontWeight":"bold"},"encoding":{"x":{"field":"x","type":"quantitative"},"y":{"field":"d","type":"quantitative"},"text":{"field":"l"},"color":{"field":"c","type":"nominal","legend":null,"scale":{"domain":["#4","#5","#7","#11"],"range":["#00A651","#3A3D96","#EE3338","#FFCB2B"]}}}},
{"data":{"values":[{"x":1.324,"d":1452,"l":"a"}]},"mark":{"type":"text","align":"left","baseline":"middle","fontSize":27,"color":"#333"},"encoding":{"x":{"field":"x","type":"quantitative"},"y":{"field":"d","type":"quantitative"},"text":{"field":"l"}}}
]},
{"width":228,"height":729,"layer":[
{"data":{"values":[{"x":0,"x2":1.84,"d":1982,"d2":2073}]},"mark":{"type":"rect","fill":"#B7E2EA"},"encoding":{"x":{"field":"x","type":"quantitative","scale":{"domain":[0,2.28],"zero":false,"nice":false},"axis":{"labels":false,"ticks":false,"domain":false,"title":["synthetic","seismograms"],"titleFontSize":29,"titleLineHeight":35,"titlePadding":12}},"x2":{"field":"x2"},"y":{"field":"d","type":"quantitative","scale":{"domain":[1500,3500],"reverse":true,"zero":false,"nice":false},"axis":null},"y2":{"field":"d2"}}},
{"data":{"name":"horizontals"},"mark":{"type":"rule","color":"#000","strokeWidth":1.5,"strokeDash":[5,9]},"encoding":{"y":{"field":"d","type":"quantitative"}}},
{"data":{"values":[{"x":0,"d":1500,"d2":3500}]},"mark":{"type":"rule","color":"#444","strokeWidth":3},"encoding":{"x":{"field":"x","type":"quantitative"},"y":{"field":"d","type":"quantitative"},"y2":{"field":"d2"}}},
{"data":{"name":"seis"},"mark":{"type":"line","order":false,"strokeWidth":1.7},"encoding":{"x":{"field":"x","type":"quantitative"},"y":{"field":"d","type":"quantitative"},"color":{"field":"c","type":"nominal","legend":null,"scale":{"domain":["#4","#5","#7","#11"],"range":["#00A651","#3A3D96","#EE3338","#FFCB2B"]}}}},
{"data":{"name":"bracketsS"},"mark":{"type":"line","order":false,"strokeWidth":2.2},"encoding":{"x":{"field":"x","type":"quantitative"},"y":{"field":"d","type":"quantitative"},"color":{"field":"c","type":"nominal","legend":null,"scale":{"domain":["#4","#5","#7","#11"],"range":["#00A651","#3A3D96","#EE3338","#FFCB2B"]}}}}
]},
{"width":44,"height":729,"view":{"stroke":null},"data":{"values":[{"d":1500}]},"mark":{"type":"rule","opacity":0},"encoding":{"y":{"field":"d","type":"quantitative","axis":null}}},
{"width":538,"height":729,"layer":[
{"data":{"name":"contours"},"mark":{"type":"area","order":false,"clip":true},"encoding":{"x":{"field":"x","type":"quantitative","scale":{"domain":[12,8],"zero":false,"nice":false},"axis":{"values":[12,11,10,9,8],"format":"d","domain":true,"domainWidth":2,"tickSize":-5,"labelFontSize":20,"labelPadding":8,"labelFlush":false,"title":"CTD Stations MSM12/3","titleFontSize":28.5,"titlePadding":10,"titleX":312,"zindex":1}},"y":{"field":"d","type":"quantitative","scale":{"domain":[1500,3500],"reverse":true,"zero":false,"nice":false},"axis":{"values":[1500,2000,2500,3000,3500],"format":"d","domain":false,"ticks":false,"labelFontSize":19.5,"labelPadding":1,"labelOverlap":false,"labelFlush":true,"labelFlushOffset":4,"title":"depth [m]","titleFontSize":24.5,"titleX":-6,"titleY":294,"zindex":1}},"y2":{"datum":3500},"detail":{"field":"b"},"fill":{"field":"b","type":"quantitative","legend":null,"scale":{"domain":[1.44,1.6975,2.2125,2.7275,3.2425,3.5],"range":["#000080","#0000ff","#00ffff","#ffff00","#ff0000","#800000"],"interpolate":"rgb"}}}},
{"data":{"name":"contours"},"transform":[{"filter":"datum.b<3.48"}],"mark":{"type":"line","order":false,"stroke":"#000","strokeWidth":1,"clip":true},"encoding":{"x":{"field":"x","type":"quantitative"},"y":{"field":"d","type":"quantitative"},"detail":{"field":"b"}}},
{"data":{"name":"mask"},"mark":{"type":"area","order":false,"fill":"#fff"},"encoding":{"x":{"field":"x","type":"quantitative"},"y":{"field":"d","type":"quantitative"},"y2":{"datum":3500}}},
{"data":{"name":"mask"},"mark":{"type":"line","order":false,"stroke":"#000","strokeWidth":1.8},"encoding":{"x":{"field":"x","type":"quantitative"},"y":{"field":"d","type":"quantitative"}}},
{"data":{"values":[{"x":12,"d":1500,"d2":3500},{"x":8,"d":1500,"d2":3500}]},"mark":{"type":"rule","color":"#444","strokeWidth":3},"encoding":{"x":{"field":"x","type":"quantitative"},"y":{"field":"d","type":"quantitative"},"y2":{"field":"d2"}}},
{"data":{"name":"horizontals"},"mark":{"type":"rule","color":"#000","strokeWidth":1.5,"strokeDash":[5,9]},"encoding":{"y":{"field":"d","type":"quantitative"}}},
{"data":{"values":[{"x":11,"d":1500,"d2":1512},{"x":9,"d":1500,"d2":1512}]},"mark":{"type":"rule","color":"#333","strokeWidth":1},"encoding":{"x":{"field":"x","type":"quantitative"},"y":{"field":"d","type":"quantitative"},"y2":{"field":"d2"}}},
{"data":{"name":"circleB"},"mark":{"type":"line","order":false,"interpolate":"cardinal","stroke":"#3a3a3a","strokeWidth":2.5},"encoding":{"x":{"field":"x","type":"quantitative"},"y":{"field":"d","type":"quantitative"}}},
{"data":{"name":"contourLabels"},"mark":{"type":"text","align":"center","baseline":"middle","fontSize":28,"color":"#444"},"encoding":{"x":{"field":"x","type":"quantitative"},"y":{"field":"d","type":"quantitative"},"text":{"field":"l"}}},
{"data":{"name":"contourLabelsTilted"},"mark":{"type":"text","align":"center","baseline":"middle","fontSize":28,"color":"#444","angle":30},"encoding":{"x":{"field":"x","type":"quantitative"},"y":{"field":"d","type":"quantitative"},"text":{"field":"l"}}},
{"data":{"name":"scaleBar"},"mark":{"type":"line","order":false,"stroke":"#333","strokeWidth":3},"encoding":{"x":{"field":"x","type":"quantitative"},"y":{"field":"d","type":"quantitative"}}},
{"data":{"values":[{"x":11.77,"d":3410}]},"mark":{"type":"point","shape":"triangle-left","filled":true,"color":"#333","size":170,"opacity":1},"encoding":{"x":{"field":"x","type":"quantitative"},"y":{"field":"d","type":"quantitative"}}},
{"data":{"values":[{"x":10.52,"d":3410}]},"mark":{"type":"point","shape":"triangle-right","filled":true,"color":"#333","size":170,"opacity":1},"encoding":{"x":{"field":"x","type":"quantitative"},"y":{"field":"d","type":"quantitative"}}},
{"data":{"values":[{"x":11.16,"d":3383,"l":"50  km"}]},"mark":{"type":"text","align":"center","baseline":"middle","fontSize":28,"color":"#333"},"encoding":{"x":{"field":"x","type":"quantitative"},"y":{"field":"d","type":"quantitative"},"text":{"field":"l"}}},
{"data":{"values":[{"x":12,"d":1452,"l":"b"}]},"mark":{"type":"text","align":"left","baseline":"middle","fontSize":27,"color":"#333"},"encoding":{"x":{"field":"x","type":"quantitative"},"y":{"field":"d","type":"quantitative"},"text":{"field":"l"}}}
]},
{"width":20,"height":729,"view":{"stroke":null},"data":{"values":[{"d":1500}]},"mark":{"type":"rule","opacity":0},"encoding":{"y":{"field":"d","type":"quantitative","axis":null}}},
{"width":30,"height":729,"view":{"stroke":null},"layer":[
{"data":{"name":"colorBar"},"mark":{"type":"rect"},"encoding":{"x":{"field":"a","type":"quantitative","scale":{"domain":[0,1],"zero":false,"nice":false},"axis":null},"x2":{"field":"b"},"y":{"field":"t0","type":"quantitative","scale":{"domain":[1.44,3.5],"zero":false,"nice":false},"axis":{"orient":"right","values":[1.5,2,2.5,3,3.5],"format":"~g","domain":false,"tickSize":-5,"tickColor":"#333","labelFontSize":24,"labelColor":"#111","labelPadding":5,"labelFlush":false,"labelOverlap":false,"title":null,"zindex":1}},"y2":{"field":"t1"},"fill":{"field":"v","type":"quantitative","legend":null,"scale":{"domain":[1.44,1.6975,2.2125,2.7275,3.2425,3.5],"range":["#000080","#0000ff","#00ffff","#ffff00","#ff0000","#800000"],"interpolate":"rgb"}}}},
{"data":{"values":[{"x":0,"t0":1.43,"t1":3.51}]},"mark":{"type":"rule","color":"#000","strokeWidth":1},"encoding":{"x":{"field":"x","type":"quantitative"},"y":{"field":"t0","type":"quantitative"},"y2":{"field":"t1"}}},
{"data":{"values":[{"x":0.93,"t":3.576,"l":"T [°C]"}]},"mark":{"type":"text","align":"center","baseline":"middle","fontSize":26,"color":"#222"},"encoding":{"x":{"field":"x","type":"quantitative"},"y":{"field":"t","type":"quantitative"},"text":{"field":"l"}}}
]}
]}
